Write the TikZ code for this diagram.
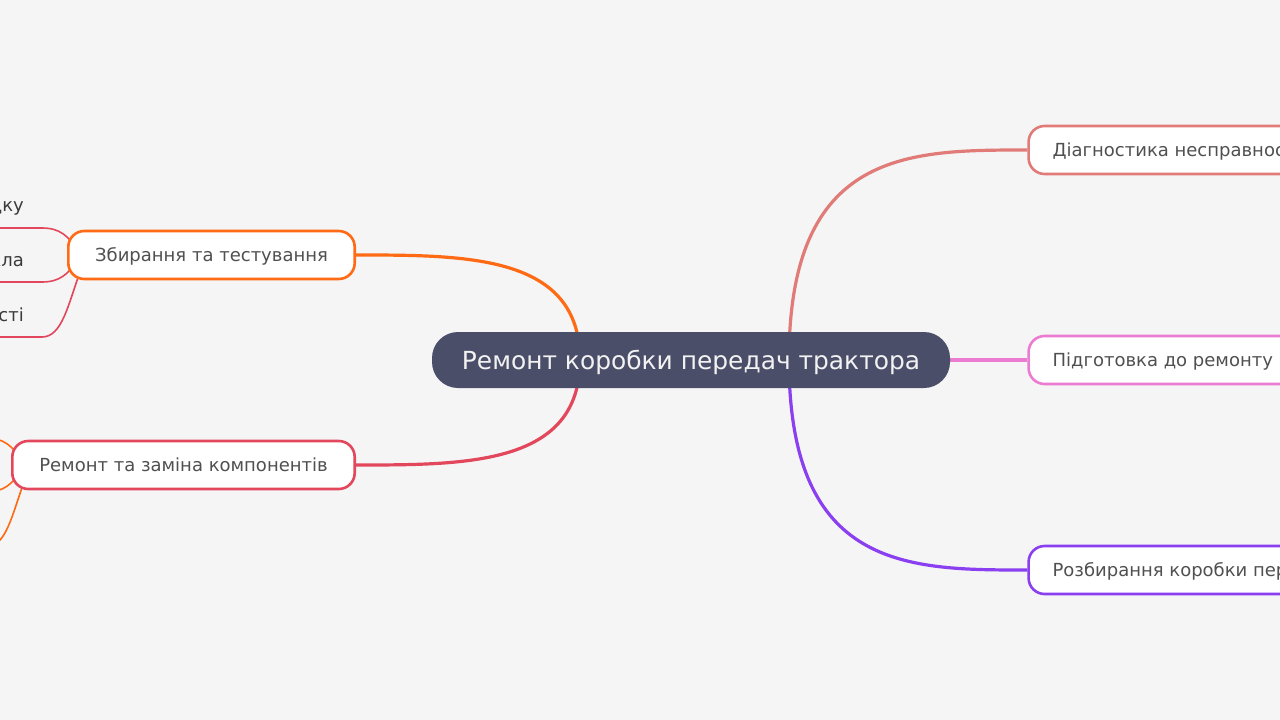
\documentclass[tikz,border=0pt]{standalone}
\usepackage{fontspec}
\setmainfont{DejaVu Sans}
\usetikzlibrary{backgrounds}
\definecolor{bg}{HTML}{F5F5F5}
\definecolor{mainfill}{HTML}{4A4E69}
\definecolor{cDiag}{HTML}{E07B78}
\definecolor{cPrep}{HTML}{EC7BD2}
\definecolor{cDis}{HTML}{8A3FF0}
\definecolor{cAsm}{HTML}{FF6A14}
\definecolor{cRep}{HTML}{E2475C}
\definecolor{txt}{HTML}{505050}
\definecolor{leaftxt}{HTML}{3A3A3A}
\begin{document}
\begin{tikzpicture}[x=1pt,y=-1pt,
  rootbox/.style={draw=none, fill=mainfill, rounded corners=26pt, minimum width=518pt,
    minimum height=56pt, inner sep=0pt, text height=19.8pt, text depth=0.7pt,
    text=white!95!black, font=\fontsize{24.9}{28}\selectfont},
  branchbox/.style={draw=#1, fill=white, line width=2.6pt, rounded corners=16pt,
    minimum height=48pt, inner xsep=24pt, inner ysep=0pt, text height=14pt, text depth=0.6pt,
    text=txt, font=\fontsize{18}{21}\selectfont},
  leaftext/.style={inner sep=0pt, text=leaftxt, font=\fontsize{18}{21}\selectfont},
  mainlink/.style={draw=#1, line width=3.2pt},
  leaflink/.style={draw=#1, line width=1.6pt},
]
\useasboundingbox (0,0) rectangle (1280,720);

% nodes
\node[rootbox] (root) at (691,360) {Ремонт коробки передач трактора};
\node[branchbox=cAsm, minimum width=286.4pt] (asm) at (211.5,255) {Збирання та тестування};
\node[branchbox=cRep, minimum width=342.4pt] (rep) at (183.5,465) {Ремонт та заміна компонентів};
\node[branchbox=cDiag, anchor=west] (diag) at (1027.3,150) {Діагностика несправностей};
\node[branchbox=cPrep, anchor=west] (prep) at (1027.3,360) {Підготовка до ремонту};
\node[branchbox=cDis, anchor=west] (dis) at (1027.3,570) {Розбирання коробки передач};

% leaves of the assembly branch
\node[leaftext, anchor=base east] (a1) at (24,211) {Збирання у зворотному порядку};
\node[leaftext, anchor=base east] (a2) at (24,266) {Перевірка рівня мастила до оглядового скла};
\node[leaftext, anchor=base east] (a3) at (24,321) {Перевірка працездатності};

% anchor coordinates
\coordinate (cL) at (580,360);
\coordinate (cR) at (789,360);
\coordinate (u1) at (42,228);
\coordinate (u2) at (42,282);
\coordinate (u3) at (42,337);
\coordinate (s1) at (78,250);
\coordinate (s2) at (78,260);
\coordinate (s3) at (80,272);
\coordinate (t1) at (22,460);
\coordinate (t2) at (22,470);
\coordinate (t3) at (24,482);
\coordinate (b1) at (-14,438);
\coordinate (b2) at (-14,492);
\coordinate (b3) at (-14,547);

\begin{scope}[on background layer]
  \fill[bg] (-40,-10) rectangle (1320,730);
  % main links
  \draw[mainlink=cAsm] (cL) .. controls (580,255) and (468,255) .. (asm.east);
  \draw[mainlink=cRep] (cL) .. controls (580,465) and (468,465) .. (rep.east);
  \draw[mainlink=cDiag] (cR) .. controls (789,150) and (908,150) .. (diag.west);
  \draw[mainlink=cPrep] (root.east) -- (prep.west);
  \draw[mainlink=cDis] (cR) .. controls (789,570) and (908,570) .. (dis.west);
  % leaf links of assembly
  \draw[leaflink=cRep] (s1) .. controls (68,236) and (60,228) .. (u1) -- (u1 -| a1.west);
  \draw[leaflink=cRep] (s2) .. controls (68,274) and (60,282) .. (u2) -- (u2 -| a2.west);
  \draw[leaflink=cRep] (s3) .. controls (68,305) and (62,337) .. (u3) -- (u3 -| a3.west);
  % leaf links of repair (leaves off the canvas)
  \draw[leaflink=cAsm] (t1) .. controls (12,446) and (4,438) .. (b1);
  \draw[leaflink=cAsm] (t2) .. controls (12,484) and (4,492) .. (b2);
  \draw[leaflink=cAsm] (t3) .. controls (12,515) and (6,547) .. (b3);
\end{scope}
\end{tikzpicture}
\end{document}
